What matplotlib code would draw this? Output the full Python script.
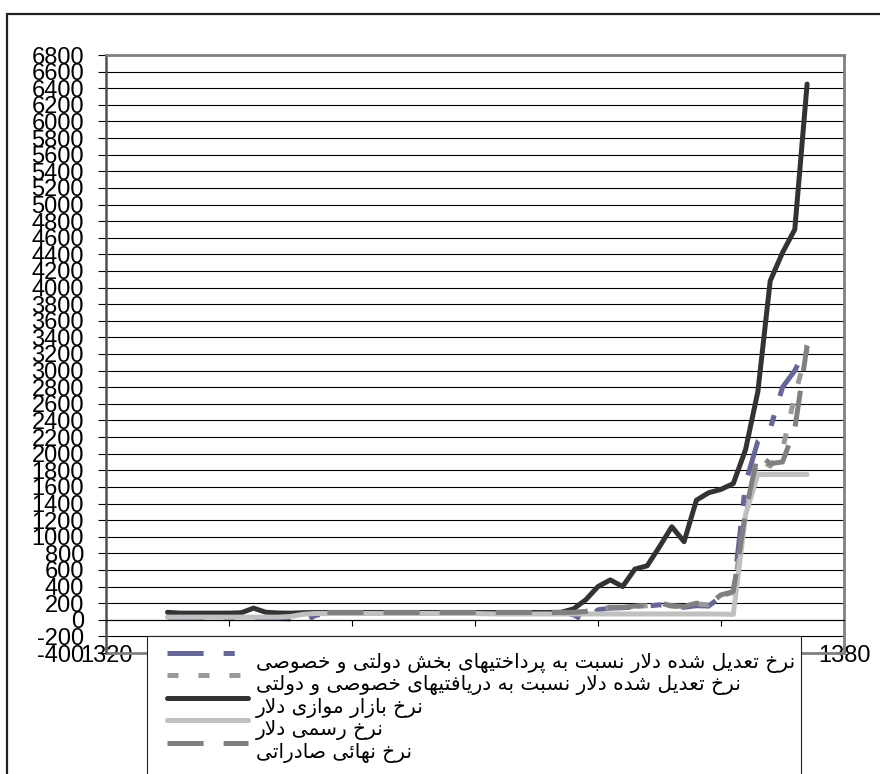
import matplotlib
matplotlib.use('Agg')
import matplotlib.pyplot as plt
from matplotlib.patches import Rectangle
from matplotlib.transforms import Affine2D

plt.rcParams['lines.scale_dashes'] = False

# years 1325 .. 1377
years = list(range(1325, 1378))
N = None

# adjusted rate vs. payments of public and private sector
payments = [15, 15, 15, 15, 15, 15, 15, 15, 15, 15,
            10, -30, 50, 84, 84, 84, 84, 84, 84, 84,
            84, 84, 84, 84, 84, 84, 84, 84, 84, 84,
            84, 84, 84, 60, -20, 120, 140, 145, 155, 165,
            180, 160, 150, 170, 165, 280, 320, 1650, 2150, 2300,
            2800, 3000, 3300]
# adjusted rate vs. receipts
receipts = [N, N, N, N, N, N, N, N, N, N,
            N, N, N, 86, 86, 86, 86, 86, 86, 86,
            86, 86, 86, 86, 86, 86, 86, 86, 86, 86,
            86, 86, 86, 88, 95, 135, 145, 150, 160, 170,
            190, 165, 155, 190, 180, 290, 330, 1250, 1950, 1850,
            2050, 2700, 3250]
# parallel market rate
market = [90, 80, 80, 80, 80, 80, 85, 140, 90, 82,
          80, 85, 88, 88, 88, 88, 88, 88, 88, 88,
          88, 88, 88, 88, 88, 88, 88, 88, 88, 88,
          88, 88, 90, 130, 240, 400, 480, 400, 610, 650,
          880, 1120, 940, 1440, 1530, 1570, 1640, 2050, 2750, 4080,
          4420, 4700, 6450]
# official rate
official = [32, 32, 32, 32, 32, 32, 32, 32, 32, 32,
            40, 65, 76, 76, 76, 76, 76, 76, 76, 76,
            76, 76, 76, 76, 76, 76, 72, 70, 70, 70,
            70, 70, 70, 70, 70, 70, 70, 70, 70, 70,
            70, 70, 70, 70, 70, 68, 66, 1268, 1748, 1750,
            1750, 1750, 1750]
# final export rate
export = [N, N, N, N, N, N, N, N, N, N,
          N, N, N, 88, 88, 88, 88, 88, 88, 88,
          88, 88, 88, 88, 88, 88, 88, 88, 88, 88,
          88, 88, 88, 90, 100, 140, 150, 150, 165, 175,
          200, 170, 160, 200, 185, 300, 340, 1300, 2000, 1880,
          1900, 2300, 3300]

labels = ['نرخ تعدیل شده دلار نسبت به پرداختیهای بخش دولتی و خصوصی',
          'نرخ تعدیل شده دلار نسبت به دریافتیهای خصوصی و دولتی',
          'نرخ بازار موازی دلار',
          'نرخ رسمی دلار',
          'نرخ نهائی صادراتی']

xticks = [1320, 1330, 1340, 1350, 1360, 1370, 1380]
yticks = list(range(-400, 6801, 200))

# presentation forms: isolated, final, initial, medial
FORMS = {
    'ا': ('\uFE8D', '\uFE8E', None, None),
    'د': ('\uFEA9', '\uFEAA', None, None),
    'ر': ('\uFEAD', '\uFEAE', None, None),
    'ز': ('\uFEAF', '\uFEB0', None, None),
    'و': ('\uFEED', '\uFEEE', None, None),
    'ب': ('\uFE8F', '\uFE90', '\uFE91', '\uFE92'),
    'پ': ('\uFB56', '\uFB57', '\uFB58', '\uFB59'),
    'ت': ('\uFE95', '\uFE96', '\uFE97', '\uFE98'),
    'ح': ('\uFEA1', '\uFEA2', '\uFEA3', '\uFEA4'),
    'خ': ('\uFEA5', '\uFEA6', '\uFEA7', '\uFEA8'),
    'س': ('\uFEB1', '\uFEB2', '\uFEB3', '\uFEB4'),
    'ش': ('\uFEB5', '\uFEB6', '\uFEB7', '\uFEB8'),
    'ص': ('\uFEB9', '\uFEBA', '\uFEBB', '\uFEBC'),
    'ع': ('\uFEC9', '\uFECA', '\uFECB', '\uFECC'),
    'ف': ('\uFED1', '\uFED2', '\uFED3', '\uFED4'),
    'ل': ('\uFEDD', '\uFEDE', '\uFEDF', '\uFEE0'),
    'م': ('\uFEE1', '\uFEE2', '\uFEE3', '\uFEE4'),
    'ن': ('\uFEE5', '\uFEE6', '\uFEE7', '\uFEE8'),
    'ه': ('\uFEE9', '\uFEEA', '\uFEEB', '\uFEEC'),
    'ی': ('\uFEEF', '\uFEF0', '\uFEF3', '\uFEF4'),
    'ئ': ('\uFE89', '\uFE8A', '\uFE8B', '\uFE8C'),
}


def shape_persian(text):
    """join letters into their contextual forms and flip to visual order"""
    out = []
    i = 0
    while i < len(text):
        ch = text[i]
        if ch not in FORMS:
            out.append(ch)
            i += 1
            continue
        prev = text[i - 1] if i > 0 else ''
        joins_prev = prev in FORMS and FORMS[prev][2] is not None
        nxt = text[i + 1] if i + 1 < len(text) else ''
        if ch == 'ل' and nxt == 'ا':
            out.append('\uFEFC' if joins_prev else '\uFEFB')
            i += 2
            continue
        joins_next = FORMS[ch][2] is not None and nxt in FORMS
        iso, fin, ini, med = FORMS[ch]
        if joins_prev and joins_next:
            out.append(med)
        elif joins_prev:
            out.append(fin)
        elif joins_next:
            out.append(ini)
        else:
            out.append(iso)
        i += 1
    return ''.join(out)[::-1]


fig = plt.figure(figsize=(8.8, 7.74), dpi=100)
W, H = 880, 774

# outer chart frame
fig.patches.append(Rectangle((7 / W, -0.1), 1.2, 1.1 - 14 / H,
                             transform=fig.transFigure, fill=False,
                             ec='#222222', lw=1.6))

ax = fig.add_axes([106 / W, 1 - 653 / H, (844 - 106) / W, (653 - 55) / H])

styles = [
    dict(color='#666699', ls=(0, (26, 14.4, 8, 14.4)), dash_capstyle='butt'),
    dict(color='#999999', ls=(0, (7.9, 14.4)), dash_capstyle='butt'),
    dict(color='#333333', ls='-', solid_capstyle='round'),
    dict(color='#c0c0c0', ls='-', solid_capstyle='round'),
    dict(color='#808080', ls=(0, (26, 14.4)), dash_capstyle='butt'),
]
series = [payments, receipts, market, official, export]
for vals, lab, st in zip(series, labels, styles):
    yv = [float('nan') if v is None else v for v in vals]
    ax.plot(years, yv, lw=3.6, label=shape_persian(lab),
            solid_joinstyle='round', **st)

# x axis crosses at 0, move it before the tick labels are styled
ax.spines['bottom'].set_position(('data', 0))
ax.spines['bottom'].set_color('black')
ax.spines['bottom'].set_linewidth(0.8)
for side in ['top', 'right']:
    ax.spines[side].set_color('#808080')
    ax.spines[side].set_linewidth(2)
ax.spines['left'].set_color('#505050')
ax.spines['left'].set_linewidth(1.8)

ax.set_xlim(1320, 1380)
ax.set_ylim(-400, 6800)
ax.set_xticks(xticks)
ax.set_yticks(yticks)
tick_font = dict(family=['Liberation Sans'], size=17)
ax.set_yticklabels([str(v) for v in yticks], **tick_font)
ax.set_xticklabels([str(v) for v in xticks], **tick_font)
ax.yaxis.grid(True, color='black', lw=0.8)
ax.tick_params(axis='y', direction='out', length=5.8, width=0.8, pad=10)
ax.tick_params(axis='x', direction='out', length=4.5, width=0.8, pad=13.5)

# bottom edge of the plot area
ax.axhline(-400, color='#808080', lw=2, clip_on=False, zorder=1.6)

# legend box runs off the bottom of the chart, covering the middle year labels
ax.add_patch(Rectangle((147 / W, -0.1), (801 - 147) / W, 0.1 + 1 - 636 / H,
                       transform=fig.transFigure, clip_on=False,
                       fc='white', ec='#222222', lw=0.8, zorder=4))

leg = ax.legend(loc='upper left',
                bbox_to_anchor=(158 / W, 1 - 636 / H, (801 - 158) / W, 0),
                bbox_transform=fig.transFigure, mode='expand',
                borderaxespad=0, frameon=False, borderpad=0.45,
                labelspacing=0.12, handlelength=4.0, handletextpad=0.4,
                prop=dict(family=['DejaVu Sans'], size=14.5))
for t in leg.get_texts():
    t.set_transform(t.get_transform() + Affine2D().translate(0, -8))

fig.savefig('out.png', dpi=100, facecolor='white')
